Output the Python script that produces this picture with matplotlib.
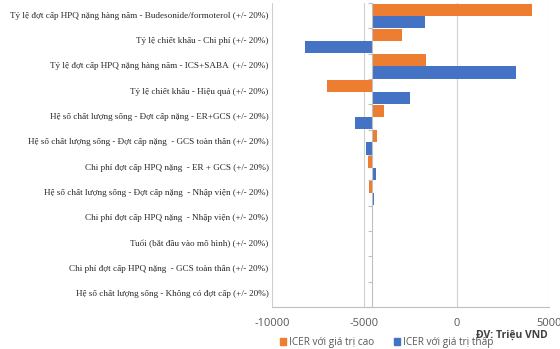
import numpy as np
import matplotlib.pyplot as plt
from matplotlib.patches import Patch

categories = [
    "Tỷ lệ đợt cấp HPQ nặng hàng năm - Budesonide/formoterol (+/- 20%)",
    "Tỷ lệ chiết khấu - Chi phí (+/- 20%)",
    "Tỷ lệ đợt cấp HPQ nặng hàng năm - ICS+SABA  (+/- 20%)",
    "Tỷ lệ chiết khấu - Hiệu quả (+/- 20%)",
    "Hệ số chất lượng sống - Đợt cấp nặng - ER+GCS (+/- 20%)",
    "Hệ số chất lượng sống - Đợt cấp nặng  - GCS toàn thân (+/- 20%)",
    "Chi phí đợt cấp HPQ nặng  - ER + GCS (+/- 20%)",
    "Hệ số chất lượng sống - Đợt cấp nặng  - Nhập viện (+/- 20%)",
    "Chi phí đợt cấp HPQ nặng  - Nhập viện (+/- 20%)",
    "Tuổi (bắt đầu vào mô hình) (+/- 20%)",
    "Chi phí đợt cấp HPQ nặng  - GCS toàn thân (+/- 20%)",
    "Hệ số chất lượng sống - Không có đợt cấp (+/- 20%)",
]
base_icer = -4590
icer_high = [4096, -2968, -1671, -7022, -3920, -4298, -4806, -4750, -4560, -4590, -4590, -4590]
icer_low = [-1704, -8244, 3248, -2536, -5487, -4893, -4374, -4470, -4580, -4540, -4590, -4590]
xticks = [-10000, -5000, 0, 5000]

orange = "#ed7d31"
blue = "#4472c4"
grey = "#595959"

fig = plt.figure(figsize=(5.6, 3.49), dpi=100)
ax = fig.add_axes([0.486, 0.12, 0.494, 0.871])

y = np.arange(len(categories))
h = 0.48
ax.barh(y - h / 2, np.array(icer_high) - base_icer, left=base_icer, height=h, color=orange)
ax.barh(y + h / 2, np.array(icer_low) - base_icer, left=base_icer, height=h, color=blue)

ax.set_xlim(-10000, 5000)
ax.set_ylim(len(categories) - 0.5, -0.5)
ax.set_xticks(xticks)
ax.set_xticklabels([str(t) for t in xticks], fontsize=8, color=grey, family="Open Sans")
ax.tick_params(axis="x", length=0, pad=8)
ax.grid(axis="x", color="#d0d0d0", linewidth=0.8)
ax.set_axisbelow(True)

for s in ["top", "right"]:
    ax.spines[s].set_visible(False)
ax.spines["bottom"].set_color("#bfbfbf")
ax.spines["left"].set_position(("data", base_icer))
ax.spines["left"].set_color("#bfbfbf")
ax.set_yticks(np.arange(len(categories) + 1) - 0.5)
ax.set_yticklabels([])
ax.tick_params(axis="y", length=3, color="#bfbfbf", direction="out")

for i, c in enumerate(categories):
    ax.text(-0.013, i, c, transform=ax.get_yaxis_transform(), ha="right", va="center",
            fontsize=6.6, family="Liberation Serif", color="#262626")

fig.text(0.978, 0.04, "ĐV: Triệu VND", ha="right", va="center", fontsize=7.5,
         fontweight="bold", color="#404040", family="Open Sans")

handles = [Patch(color=orange, label="ICER với giá trị cao"),
           Patch(color=blue, label="ICER với giá trị thấp")]
fig.legend(handles=handles, loc="center", bbox_to_anchor=(0.69, 0.02), ncol=2, frameon=False,
           handlelength=0.6, handleheight=0.6, handletextpad=0.3, columnspacing=2.0,
           borderpad=0.1, prop={"family": "Open Sans", "size": 7.2}, labelcolor=grey)

fig.savefig("out.png", dpi=100)
